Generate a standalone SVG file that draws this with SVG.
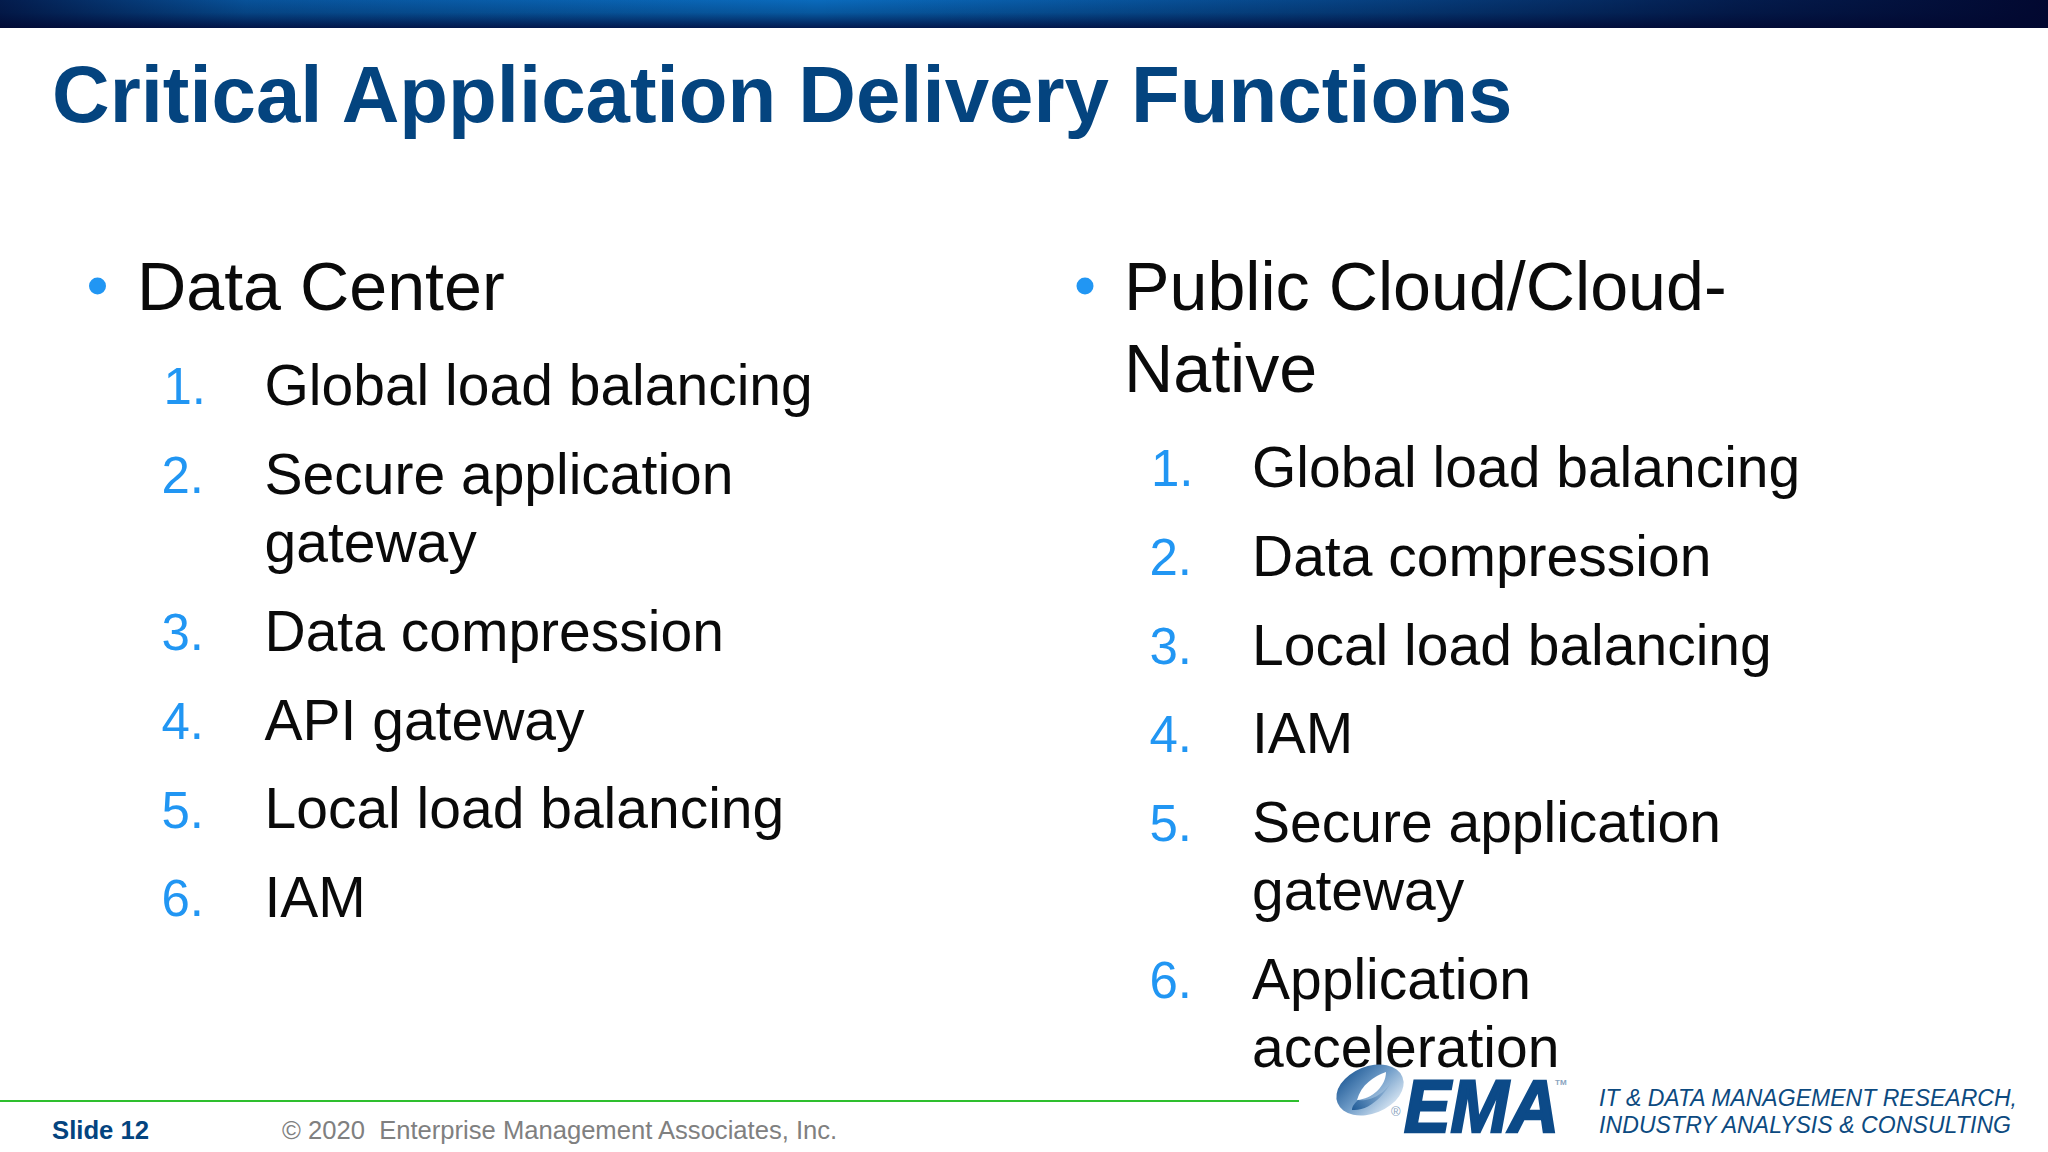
<svg xmlns="http://www.w3.org/2000/svg" width="2048" height="1152" viewBox="0 0 2048 1152">
<defs>
<linearGradient id="bar" x1="0" y1="0" x2="0" y2="1"><stop offset="0" stop-color="#0a6abc"/><stop offset="0.45" stop-color="#07589f"/><stop offset="1" stop-color="#021a50"/></linearGradient>
<linearGradient id="barShade" x1="0" y1="0" x2="1" y2="0"><stop offset="0" stop-color="#020830" stop-opacity="0.8"/><stop offset="0.12" stop-color="#020830" stop-opacity="0.25"/><stop offset="0.4" stop-color="#020830" stop-opacity="0"/><stop offset="0.68" stop-color="#020830" stop-opacity="0.45"/><stop offset="0.85" stop-color="#020830" stop-opacity="0.8"/><stop offset="1" stop-color="#020830" stop-opacity="1"/></linearGradient>
<linearGradient id="swoosh" x1="0.15" y1="0" x2="0.75" y2="1"><stop offset="0" stop-color="#1f5a96"/><stop offset="0.5" stop-color="#6f9cc8"/><stop offset="1" stop-color="#d8e6f3"/></linearGradient>
<linearGradient id="inner" x1="0" y1="1" x2="1" y2="0"><stop offset="0" stop-color="#1f5a96"/><stop offset="1" stop-color="#6f9cc8" stop-opacity="0"/></linearGradient>
</defs>
<style>
text{font-family:"Liberation Sans",Arial,sans-serif}
.h{font-size:68.200px;fill:#0a0a0a}
.i{font-size:57px;fill:#0a0a0a}
.n{font-size:51px;fill:#2196f3}
.b{fill:#2196f3}
.t{font-size:23px;font-style:italic;fill:#0c4a80}
</style>
<rect width="2048" height="1152" fill="#fff"/>
<g id="top-bar"><rect width="2048" height="28" fill="url(#bar)"/><rect width="2048" height="28" fill="url(#barShade)"/></g>
<text id="title" x="52" y="122" font-size="79.800" font-weight="700" fill="#04447f">Critical Application Delivery Functions</text>
<g id="left-column">
<circle class="b" cx="97.500" cy="286" r="8.500"/>
<text class="h" x="137" y="310">Data Center</text>
<text class="n" x="163.500" y="404">1.</text><text class="i" x="264.500" y="405">Global load balancing</text>
<text class="n" x="161.500" y="493">2.</text><text class="i" x="264.500" y="494">Secure application</text><text class="i" x="264.500" y="562">gateway</text>
<text class="n" x="161.500" y="650">3.</text><text class="i" x="264.500" y="651">Data compression</text>
<text class="n" x="161.500" y="739">4.</text><text class="i" x="264.500" y="740">API gateway</text>
<text class="n" x="161.500" y="828">5.</text><text class="i" x="264.500" y="828">Local load balancing</text>
<text class="n" x="161.500" y="916">6.</text><text class="i" x="264.500" y="917">IAM</text>
</g>
<g id="right-column">
<circle class="b" cx="1085" cy="286" r="8.500"/>
<text class="h" x="1124" y="310">Public Cloud/Cloud-</text>
<text class="h" x="1124" y="392">Native</text>
<text class="n" x="1151" y="486">1.</text><text class="i" x="1252" y="487">Global load balancing</text>
<text class="n" x="1149.500" y="575">2.</text><text class="i" x="1252" y="576">Data compression</text>
<text class="n" x="1149.500" y="664">3.</text><text class="i" x="1252" y="665">Local load balancing</text>
<text class="n" x="1149.500" y="752">4.</text><text class="i" x="1252" y="753">IAM</text>
<text class="n" x="1149.500" y="841">5.</text><text class="i" x="1252" y="842">Secure application</text><text class="i" x="1252" y="910">gateway</text>
<text class="n" x="1149.500" y="998">6.</text><text class="i" x="1252" y="999">Application</text><text class="i" x="1252" y="1067">acceleration</text>
</g>
<g id="footer">
<rect x="0" y="1100" width="1299" height="2" fill="#2ebf2e"/>
<text x="52" y="1139" font-size="25.700" font-weight="700" fill="#04447f">Slide 12</text>
<text x="282" y="1139" font-size="25.600" fill="#808080" xml:space="preserve">© 2020  Enterprise Management Associates, Inc.</text>
</g>
<g id="logo">
<ellipse cx="1370" cy="1090" rx="35" ry="23.500" transform="rotate(-22 1370 1090)" fill="url(#swoosh)"/>
<path d="M1358 1100C1372 1102 1388 1092 1394 1076C1390 1088 1372 1112 1352 1110C1352 1106 1355 1103 1358 1100Z" fill="url(#inner)"/>
<path d="M1357 1100C1361 1085 1374 1076 1386 1072C1386 1086 1372 1099 1357 1100Z" fill="#fff"/>
<text x="1391" y="1116" font-size="13" fill="#8aa4c0">®</text>
<text x="1404" y="1132" font-size="74" font-weight="700" font-style="italic" fill="#0c4a88" stroke="#0c4a88" stroke-width="2.500" textLength="155" lengthAdjust="spacingAndGlyphs">EMA</text>
<text x="1555" y="1085" font-size="8" font-weight="700" fill="#8aa4c0">TM</text>
<text class="t" x="1599" y="1106" textLength="418">IT &amp; DATA MANAGEMENT RESEARCH,</text>
<text class="t" x="1599" y="1133" textLength="412">INDUSTRY ANALYSIS &amp; CONSULTING</text>
</g>
</svg>
